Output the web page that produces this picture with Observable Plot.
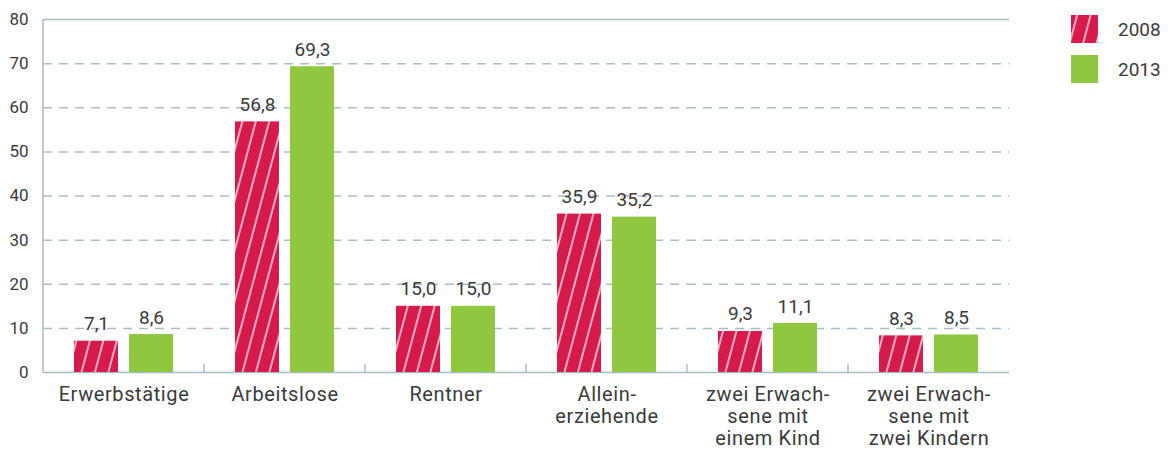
<!DOCTYPE html>
<html>
<head>
<meta charset="utf-8">
<script src="https://cdn.jsdelivr.net/npm/d3@7"></script>
<script src="https://cdn.jsdelivr.net/npm/@observablehq/plot@0.6"></script>
<style>
  html, body { margin: 0; padding: 0; background: #fff; }
  #wrap { position: relative; width: 1168px; height: 450px; font-family: Roboto, "DejaVu Sans", sans-serif; }
  #legend { position: absolute; left: 1071px; top: 15px; font-size: 19px; color: #3a3a3a; }
  .item { display: flex; align-items: center; height: 28px; margin-bottom: 12px; }
  .sw { width: 27px; height: 28px; margin-right: 20px; }
</style>
</head>
<body>
<svg width="0" height="0" style="position:absolute">
  <defs>
    <pattern id="hatch" patternUnits="userSpaceOnUse" width="13" height="13" patternTransform="rotate(15)">
      <rect width="13" height="13" fill="#d61a4c"></rect>
      <line x1="6" y1="0" x2="6" y2="13" stroke="#fbe3e8" stroke-width="1.5"></line>
    </pattern>
  </defs>
</svg>
<div id="wrap">
  <div id="chart"></div>
  <div id="legend"></div>
</div>
<script>
const groups = [
  "Erwerbstätige",
  "Arbeitslose",
  "Rentner",
  "Allein-\nerziehende",
  "zwei Erwach-\nsene mit\neinem Kind",
  "zwei Erwach-\nsene mit\nzwei Kindern"
];
const years = ["2008", "2013"];
const values2008 = [7.1, 56.8, 15.0, 35.9, 9.3, 8.3];
const values2013 = [8.6, 69.3, 15.0, 35.2, 11.1, 8.5];
const yTicks = [0, 10, 20, 30, 40, 50, 60, 70, 80];
const gridTicks = [10, 20, 30, 40, 50, 60, 70];

const data = [];
groups.forEach((g, i) => {
  data.push({group: g, year: years[0], value: values2008[i]});
  data.push({group: g, year: years[1], value: values2013[i]});
});

const fmt = d => d.toFixed(1).replace(".", ",");
const lineColor = "#a9bcc6";
const textColor = "#3a3a3a";

const plot = Plot.plot({
  width: 1168,
  height: 450,
  marginLeft: 43,
  marginRight: 159,
  marginTop: 19,
  marginBottom: 78,
  style: {fontFamily: "Roboto, 'DejaVu Sans', sans-serif", color: textColor, background: "transparent"},
  fx: {domain: groups, padding: 0, label: null},
  x: {domain: years, paddingInner: 0.1964, paddingOuter: 0.536, axis: null},
  y: {domain: [0, 80], label: null},
  color: {domain: years, range: ["url(#hatch)", "#8fc73e"]},
  marks: [
    Plot.ruleY(gridTicks, {stroke: lineColor, strokeWidth: 1.5, strokeDasharray: "9,7"}),
    Plot.ruleY([0, 80], {stroke: lineColor, strokeWidth: 1.5}),
    Plot.barY(data, {fx: "group", x: "year", y: "value", fill: "year"}),
    Plot.text(data, {fx: "group", x: "year", y: "value", text: d => fmt(d.value), lineAnchor: "bottom", dy: -11, fontSize: 19, fill: textColor}),
    Plot.axisY({ticks: yTicks, tickSize: 0, tickPadding: 15, fontSize: 17, fill: textColor, label: null}),
    Plot.axisFx({anchor: "bottom", tickSize: 0, tickPadding: 13, fontSize: 20, lineHeight: 1.1, fill: textColor, label: null})
  ]
});

// Left axis line and group separator ticks, positioned with the plot's own scales
const fxs = plot.scale("fx");
const ys = plot.scale("y");
const svg = d3.select(plot.tagName === "svg" ? plot : plot.querySelector("svg"));
svg.selectAll('g[aria-label="fx-axis tick label"]').style("letter-spacing", "0.6px");
const y0 = ys.apply(0), yTop = ys.apply(80);
const gLines = svg.append("g").attr("stroke", lineColor).attr("stroke-width", 1.5);
gLines.append("line")
  .attr("x1", fxs.apply(groups[0])).attr("x2", fxs.apply(groups[0]))
  .attr("y1", yTop).attr("y2", y0);
groups.slice(1).forEach(g => {
  const x = fxs.apply(g);
  gLines.append("line").attr("x1", x).attr("x2", x).attr("y1", y0 - 8).attr("y2", y0);
});

document.getElementById("chart").appendChild(plot);

const legend = document.getElementById("legend");
const fills = {"2008": "url(#hatch)", "2013": "#8fc73e"};
years.forEach(y => {
  const item = document.createElement("div");
  item.className = "item";
  item.innerHTML = `<svg class="sw" width="27" height="28"><rect width="27" height="28" fill="${fills[y]}"></rect></svg><span>${y}</span>`;
  legend.appendChild(item);
});
</script>
</body>
</html>
